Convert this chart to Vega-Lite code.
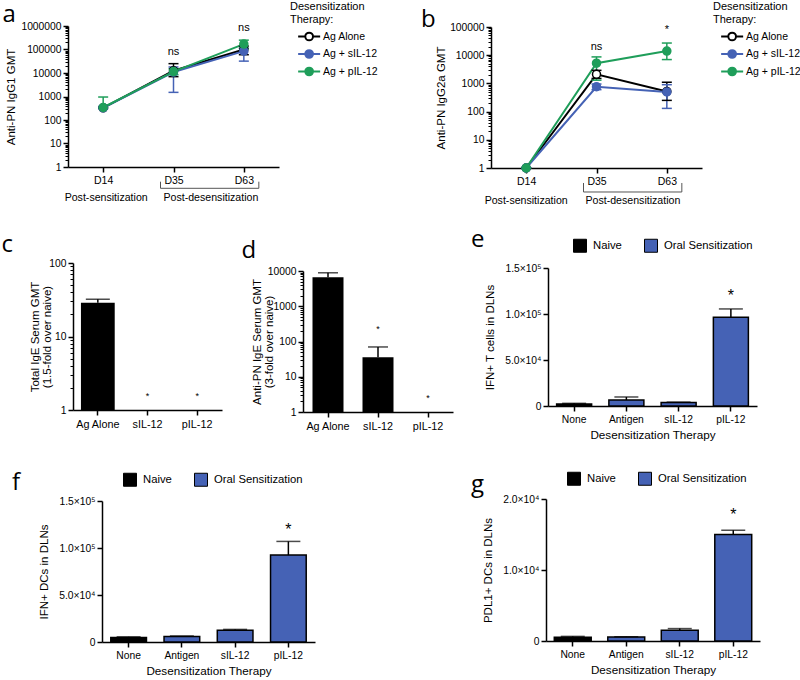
{
"$schema": "https://vega.github.io/schema/vega-lite/v6.json",
"autosize": {"type": "none"},
"padding": {"left": 0, "top": 26, "right": 800, "bottom": 680},
"background": "white",
"config": {
 "view": {"stroke": null},
 "font": "Liberation Sans",
 "axis": {"domainColor": "black", "tickColor": "black", "labelColor": "black", "titleColor": "black", "domainWidth": 1.5, "tickWidth": 1.5, "tickSize": 5, "labelFontSize": 10.3, "titleFontSize": 11.5, "titleFontWeight": "normal", "grid": false, "labelPadding": 2, "labelFont": "Liberation Sans", "titleFont": "Liberation Sans"},
 "legend": {"labelFont": "Liberation Sans", "titleFont": "Liberation Sans", "labelColor": "black", "titleColor": "black"},
 "text": {"font": "Liberation Sans", "color": "black"}
},
"datasets": {
 "lineA": [
  {"t": "D14", "g": "Ag Alone", "v": 330, "lo": 330, "hi": 330},
  {"t": "D35", "g": "Ag Alone", "v": 12500, "lo": 7000, "hi": 25000},
  {"t": "D63", "g": "Ag Alone", "v": 100000, "lo": 60000, "hi": 140000},
  {"t": "D14", "g": "Ag + sIL-12", "v": 330, "lo": 300, "hi": 380},
  {"t": "D35", "g": "Ag + sIL-12", "v": 11000, "lo": 1500, "hi": 18000},
  {"t": "D63", "g": "Ag + sIL-12", "v": 85000, "lo": 32000, "hi": 115000},
  {"t": "D14", "g": "Ag + pIL-12", "v": 340, "lo": 340, "hi": 950},
  {"t": "D35", "g": "Ag + pIL-12", "v": 11500, "lo": 8500, "hi": 15000},
  {"t": "D63", "g": "Ag + pIL-12", "v": 170000, "lo": 110000, "hi": 250000}
 ],
 "annA": [{"t": "D35", "y": 75000, "s": "ns"}, {"t": "D63", "y": 800000, "s": "ns"}],
 "lineB": [
  {"t": "D14", "g": "Ag Alone", "v": 1, "lo": 1, "hi": 1},
  {"t": "D35", "g": "Ag Alone", "v": 2100, "lo": 1500, "hi": 2900},
  {"t": "D63", "g": "Ag Alone", "v": 520, "lo": 250, "hi": 1100},
  {"t": "D14", "g": "Ag + sIL-12", "v": 1, "lo": 1, "hi": 1},
  {"t": "D35", "g": "Ag + sIL-12", "v": 760, "lo": 600, "hi": 950},
  {"t": "D63", "g": "Ag + sIL-12", "v": 500, "lo": 130, "hi": 900},
  {"t": "D14", "g": "Ag + pIL-12", "v": 1, "lo": 1, "hi": 1},
  {"t": "D35", "g": "Ag + pIL-12", "v": 5200, "lo": 1300, "hi": 8700},
  {"t": "D63", "g": "Ag + pIL-12", "v": 14000, "lo": 7000, "hi": 27000}
 ],
 "annB": [{"t": "D35", "y": 19000, "s": "ns"}, {"t": "D63", "y": 80000, "s": "*"}],
 "barC": [
  {"x": "Ag Alone", "v": 28.8, "hi": 32},
  {"x": "sIL-12", "sy": 1.55, "s": "*"},
  {"x": "pIL-12", "sy": 1.55, "s": "*"}
 ],
 "barD": [
  {"x": "Ag Alone", "v": 6600, "hi": 8900},
  {"x": "sIL-12", "v": 36, "hi": 70, "sy": 220, "s": "*"},
  {"x": "pIL-12", "sy": 2.5, "s": "*"}
 ],
 "barE": [
  {"x": "None", "c": "Naive", "v": 2200, "hi": 2900},
  {"x": "Antigen", "c": "Oral Sensitization", "v": 6500, "hi": 9800},
  {"x": "sIL-12", "c": "Oral Sensitization", "v": 3700, "hi": 4200},
  {"x": "pIL-12", "c": "Oral Sensitization", "v": 96500, "hi": 105500, "sy": 120000, "s": "*"}
 ],
 "barF": [
  {"x": "None", "c": "Naive", "v": 4800, "hi": 5500},
  {"x": "Antigen", "c": "Oral Sensitization", "v": 5800, "hi": 6400},
  {"x": "sIL-12", "c": "Oral Sensitization", "v": 12400, "hi": 13400},
  {"x": "pIL-12", "c": "Oral Sensitization", "v": 92500, "hi": 107000, "sy": 119000, "s": "*"}
 ],
 "barG": [
  {"x": "None", "c": "Naive", "v": 530, "hi": 650},
  {"x": "Antigen", "c": "Oral Sensitization", "v": 560, "hi": 600},
  {"x": "sIL-12", "c": "Oral Sensitization", "v": 1500, "hi": 1750},
  {"x": "pIL-12", "c": "Oral Sensitization", "v": 15000, "hi": 15600, "sy": 17800, "s": "*"}
 ]
},
"bounds": "flush",
"spacing": 236,
"resolve": {"scale": {"color": "independent"}, "legend": {"color": "independent"}},
"vconcat": [
 {
  "bounds": "flush",
  "spacing": 0,
  "resolve": {"scale": {"color": "independent", "fill": "independent"}, "legend": {"color": "independent", "fill": "independent"}},
  "hconcat": [
   {"width": 68, "height": 1, "data": {"values": [{"x": 2.5, "y": -4, "s": "a"}]},
    "mark": {"type": "text", "fontSize": 24, "font": "Open Sans", "align": "left", "baseline": "alphabetic"},
    "encoding": {"x": {"field": "x", "type": "quantitative", "scale": {"domain": [0, 68], "nice": false}, "axis": null}, "y": {"field": "y", "type": "quantitative", "scale": {"domain": [0, 1], "nice": false, "reverse": true}, "axis": null}, "text": {"field": "s"}}},
   {
    "width": 211, "height": 141,
    "layer": [
     {"data": {"name": "lineA"}, "mark": {"type": "line", "strokeWidth": 2},
      "encoding": {
       "x": {"field": "t", "type": "nominal", "scale": {"type": "point", "padding": 0.5}, "axis": {"title": null, "labelAngle": 0, "labelFontSize": 10.5, "labelPadding": 3}},
       "y": {"field": "v", "type": "quantitative", "scale": {"type": "log", "domain": [1, 1000000], "nice": false}, "axis": {"orient": "left", "values": [1,10,100,1000,10000,100000,1000000], "format": "d", "title": "Anti-PN IgG1 GMT", "titlePadding": 4, "labelOverlap": false}},
       "color": {"field": "g", "type": "nominal", "scale": {"domain": ["Ag Alone", "Ag + sIL-12", "Ag + pIL-12"], "range": ["black", "#4562b5", "#1f9e5a"]},
        "legend": {"orient": "none", "legendX": 222, "legendY": -25, "title": ["Desensitization", "Therapy:"], "titleFontSize": 11, "titleFontWeight": "normal", "titleLineHeight": 13, "titlePadding": 5, "labelFontSize": 10.5, "symbolType": "M0.3,0H1.6M3,0H4.3M3,0A0.7,0.7 0 1,1 1.6,0A0.7,0.7 0 1,1 3,0Z", "symbolSize": 121, "symbolStrokeWidth": 2, "symbolOpacity": 1, "labelOffset": 20, "rowPadding": 0.5,
         "encode": {"symbols": {"update": {"fill": {"signal": "datum.value === 'Ag Alone' ? 'white' : datum.value === 'Ag + sIL-12' ? '#4562b5' : '#1f9e5a'"}, "fillOpacity": {"value": 1}, "opacity": {"value": 1}}}}}}
      }},
     {"data": {"name": "lineA"}, "mark": {"type": "rule", "strokeWidth": 1.5},
      "encoding": {
       "x": {"field": "t", "type": "nominal"},
       "y": {"field": "lo", "type": "quantitative", "axis": {"orient": "left", "values": [2,3,4,5,6,7,8,9,20,30,40,50,60,70,80,90,200,300,400,500,600,700,800,900,2000,3000,4000,5000,6000,7000,8000,9000,20000,30000,40000,50000,60000,70000,80000,90000,200000,300000,400000,500000,600000,700000,800000,900000], "labels": false, "domain": false, "tickSize": 3, "tickWidth": 1, "title": null}},
       "y2": {"field": "hi"},
       "color": {"field": "g", "type": "nominal"}
      }},
     {"data": {"name": "lineA"}, "mark": {"type": "rule", "strokeWidth": 1.5, "xOffset": -5, "x2Offset": 5},
      "encoding": {"x": {"field": "t", "type": "nominal"}, "x2": {"field": "t"}, "y": {"field": "hi", "type": "quantitative", "axis": null}, "color": {"field": "g", "type": "nominal"}}},
     {"data": {"name": "lineA"}, "mark": {"type": "rule", "strokeWidth": 1.5, "xOffset": -5, "x2Offset": 5},
      "encoding": {"x": {"field": "t", "type": "nominal"}, "x2": {"field": "t"}, "y": {"field": "lo", "type": "quantitative", "axis": null}, "color": {"field": "g", "type": "nominal"}}},
     {"data": {"name": "lineA"}, "mark": {"type": "point", "filled": false, "size": 64, "strokeWidth": 1.5, "opacity": 1},
      "encoding": {"x": {"field": "t", "type": "nominal"}, "y": {"field": "v", "type": "quantitative", "axis": null},
       "color": {"field": "g", "type": "nominal"},
       "fill": {"field": "g", "type": "nominal", "scale": {"domain": ["Ag Alone", "Ag + sIL-12", "Ag + pIL-12"], "range": ["white", "#4562b5", "#1f9e5a"]}, "legend": null}}},
     {"data": {"name": "annA"}, "mark": {"type": "text", "fontSize": 11, "baseline": "middle"},
      "encoding": {"x": {"field": "t", "type": "nominal"}, "y": {"field": "y", "type": "quantitative", "axis": null}, "text": {"field": "s"}}},
     {"data": {"values": [{"t": "D14", "y": 0.049, "s": "Post-sensitization"}]}, "mark": {"type": "text", "fontSize": 10.6, "align": "center", "baseline": "middle", "dx": 3},
      "encoding": {"x": {"field": "t", "type": "nominal"}, "y": {"field": "y", "type": "quantitative", "axis": null}, "text": {"field": "s"}}},
     {"data": {"values": [{"t": "D35", "y": 0.049, "s": "Post-desensitization"}]}, "mark": {"type": "text", "fontSize": 10.6, "align": "left", "baseline": "middle", "dx": -10},
      "encoding": {"x": {"field": "t", "type": "nominal"}, "y": {"field": "y", "type": "quantitative", "axis": null}, "text": {"field": "s"}}},
     {"data": {"values": [{"t1": "D35", "t2": "D63", "y": 0.124}]}, "mark": {"type": "rule", "xOffset": -13, "x2Offset": 15, "strokeWidth": 1, "color": "#555"},
      "encoding": {"x": {"field": "t1", "type": "nominal"}, "x2": {"field": "t2"}, "y": {"field": "y", "type": "quantitative", "axis": null}}},
     {"data": {"values": [{"t": "D35", "y1": 0.124, "y2": 0.237}]}, "mark": {"type": "rule", "xOffset": -13, "strokeWidth": 1, "color": "#555"},
      "encoding": {"x": {"field": "t", "type": "nominal"}, "y": {"field": "y1", "type": "quantitative", "axis": null}, "y2": {"field": "y2"}}},
     {"data": {"values": [{"t": "D63", "y1": 0.124, "y2": 0.237}]}, "mark": {"type": "rule", "xOffset": 15, "strokeWidth": 1, "color": "#555"},
      "encoding": {"x": {"field": "t", "type": "nominal"}, "y": {"field": "y1", "type": "quantitative", "axis": null}, "y2": {"field": "y2"}}}
    ],
    "resolve": {"axis": {"y": "independent"}}
   },
   {"width": 212, "height": 1, "data": {"values": [{"x": 142, "y": 1, "s": "b"}]},
    "mark": {"type": "text", "fontSize": 24, "font": "Open Sans", "align": "left", "baseline": "alphabetic"},
    "encoding": {"x": {"field": "x", "type": "quantitative", "scale": {"domain": [0, 212], "nice": false}, "axis": null}, "y": {"field": "y", "type": "quantitative", "scale": {"domain": [0, 1], "nice": false, "reverse": true}, "axis": null}, "text": {"field": "s"}}},
   {
    "width": 211, "height": 142,
    "layer": [
     {"data": {"name": "lineB"}, "mark": {"type": "line", "strokeWidth": 2},
      "encoding": {
       "x": {"field": "t", "type": "nominal", "scale": {"type": "point", "padding": 0.5}, "axis": {"title": null, "labelAngle": 0, "labelFontSize": 10.5, "labelPadding": 3}},
       "y": {"field": "v", "type": "quantitative", "scale": {"type": "log", "domain": [1, 100000], "nice": false, "range": [142, 1]}, "axis": {"orient": "left", "values": [1,10,100,1000,10000,100000], "format": "d", "title": "Anti-PN IgG2a GMT", "titlePadding": 3, "labelOverlap": false}},
       "color": {"field": "g", "type": "nominal", "scale": {"domain": ["Ag Alone", "Ag + sIL-12", "Ag + pIL-12"], "range": ["black", "#4562b5", "#1f9e5a"]},
        "legend": {"orient": "none", "legendX": 222, "legendY": -25, "title": ["Desensitization", "Therapy:"], "titleFontSize": 11, "titleFontWeight": "normal", "titleLineHeight": 13, "titlePadding": 5, "labelFontSize": 10.5, "symbolType": "M0.3,0H1.6M3,0H4.3M3,0A0.7,0.7 0 1,1 1.6,0A0.7,0.7 0 1,1 3,0Z", "symbolSize": 121, "symbolStrokeWidth": 2, "symbolOpacity": 1, "labelOffset": 20, "rowPadding": 0.5,
         "encode": {"symbols": {"update": {"fill": {"signal": "datum.value === 'Ag Alone' ? 'white' : datum.value === 'Ag + sIL-12' ? '#4562b5' : '#1f9e5a'"}, "fillOpacity": {"value": 1}, "opacity": {"value": 1}}}}}}
      }},
     {"data": {"name": "lineB"}, "mark": {"type": "rule", "strokeWidth": 1.5},
      "encoding": {
       "x": {"field": "t", "type": "nominal"},
       "y": {"field": "lo", "type": "quantitative", "axis": {"orient": "left", "values": [2,3,4,5,6,7,8,9,20,30,40,50,60,70,80,90,200,300,400,500,600,700,800,900,2000,3000,4000,5000,6000,7000,8000,9000,20000,30000,40000,50000,60000,70000,80000,90000], "labels": false, "domain": false, "tickSize": 3, "tickWidth": 1, "title": null}},
       "y2": {"field": "hi"},
       "color": {"field": "g", "type": "nominal"}
      }},
     {"data": {"name": "lineB"}, "mark": {"type": "rule", "strokeWidth": 1.5, "xOffset": -5, "x2Offset": 5},
      "encoding": {"x": {"field": "t", "type": "nominal"}, "x2": {"field": "t"}, "y": {"field": "hi", "type": "quantitative", "axis": null}, "color": {"field": "g", "type": "nominal"}}},
     {"data": {"name": "lineB"}, "mark": {"type": "rule", "strokeWidth": 1.5, "xOffset": -5, "x2Offset": 5},
      "encoding": {"x": {"field": "t", "type": "nominal"}, "x2": {"field": "t"}, "y": {"field": "lo", "type": "quantitative", "axis": null}, "color": {"field": "g", "type": "nominal"}}},
     {"data": {"name": "lineB"}, "mark": {"type": "point", "filled": false, "size": 64, "strokeWidth": 1.5, "opacity": 1},
      "encoding": {"x": {"field": "t", "type": "nominal"}, "y": {"field": "v", "type": "quantitative", "axis": null},
       "color": {"field": "g", "type": "nominal"},
       "fill": {"field": "g", "type": "nominal", "scale": {"domain": ["Ag Alone", "Ag + sIL-12", "Ag + pIL-12"], "range": ["white", "#4562b5", "#1f9e5a"]}, "legend": null}}},
     {"data": {"name": "annB"}, "mark": {"type": "text", "fontSize": 11, "baseline": "middle"},
      "encoding": {"x": {"field": "t", "type": "nominal"}, "y": {"field": "y", "type": "quantitative", "axis": null}, "text": {"field": "s"}}},
     {"data": {"values": [{"t": "D14", "y": 0.0676, "s": "Post-sensitization"}]}, "mark": {"type": "text", "fontSize": 10.6, "align": "center", "baseline": "middle", "dx": 0},
      "encoding": {"x": {"field": "t", "type": "nominal"}, "y": {"field": "y", "type": "quantitative", "axis": null}, "text": {"field": "s"}}},
     {"data": {"values": [{"t": "D35", "y": 0.0676, "s": "Post-desensitization"}]}, "mark": {"type": "text", "fontSize": 10.6, "align": "left", "baseline": "middle", "dx": -11},
      "encoding": {"x": {"field": "t", "type": "nominal"}, "y": {"field": "y", "type": "quantitative", "axis": null}, "text": {"field": "s"}}},
     {"data": {"values": [{"t1": "D35", "t2": "D63", "y": 0.141}]}, "mark": {"type": "rule", "xOffset": -13, "x2Offset": 15, "strokeWidth": 1, "color": "#555"},
      "encoding": {"x": {"field": "t1", "type": "nominal"}, "x2": {"field": "t2"}, "y": {"field": "y", "type": "quantitative", "axis": null}}},
     {"data": {"values": [{"t": "D35", "y1": 0.141, "y2": 0.294}]}, "mark": {"type": "rule", "xOffset": -13, "strokeWidth": 1, "color": "#555"},
      "encoding": {"x": {"field": "t", "type": "nominal"}, "y": {"field": "y1", "type": "quantitative", "axis": null}, "y2": {"field": "y2"}}},
     {"data": {"values": [{"t": "D63", "y1": 0.141, "y2": 0.294}]}, "mark": {"type": "rule", "xOffset": 15, "strokeWidth": 1, "color": "#555"},
      "encoding": {"x": {"field": "t", "type": "nominal"}, "y": {"field": "y1", "type": "quantitative", "axis": null}, "y2": {"field": "y2"}}}
    ],
    "resolve": {"axis": {"y": "independent"}}
   }
  ]
 },
 {
  "bounds": "flush",
  "spacing": 0,
  "resolve": {"scale": {"color": "independent"}, "legend": {"color": "independent"}},
  "hconcat": [
   {"width": 73, "height": 1, "data": {"values": [{"x": 1.5, "y": -10, "s": "c"}]},
    "mark": {"type": "text", "fontSize": 24, "font": "Open Sans", "align": "left", "baseline": "alphabetic"},
    "encoding": {"x": {"field": "x", "type": "quantitative", "scale": {"domain": [0, 73], "nice": false}, "axis": null}, "y": {"field": "y", "type": "quantitative", "scale": {"domain": [0, 1], "nice": false, "reverse": true}, "axis": null}, "text": {"field": "s"}}},
   {
    "width": 149, "height": 148,
    "data": {"name": "barC"},
    "layer": [
     {"mark": {"type": "bar", "color": "black"},
      "encoding": {
       "x": {"field": "x", "type": "nominal", "sort": ["Ag Alone", "sIL-12", "pIL-12"], "scale": {"type": "band", "paddingInner": 0.32, "paddingOuter": 0.16}, "axis": {"title": null, "labelAngle": 0, "labelFontSize": 10.8, "labelPadding": 3}},
       "y": {"field": "v", "type": "quantitative", "scale": {"type": "log", "domain": [1, 100], "nice": false, "range": [148, 1]}, "axis": {"orient": "left", "values": [1, 10, 100], "format": "d", "title": ["Total IgE Serum  GMT", "(1.5-fold over naive)"], "titleLineHeight": 12, "titlePadding": -4, "labelOverlap": false}},
       "y2": {"datum": 1}
      }},
     {"mark": {"type": "rule", "color": "black", "strokeWidth": 1.5},
      "encoding": {"x": {"field": "x", "type": "nominal", "sort": ["Ag Alone", "sIL-12", "pIL-12"]},
       "y": {"field": "v", "type": "quantitative", "axis": {"orient": "left", "values": [2,3,4,5,6,7,8,9,20,30,40,50,60,70,80,90], "labels": false, "domain": false, "tickSize": 3, "tickWidth": 1, "title": null}},
       "y2": {"field": "hi"}}},
     {"mark": {"type": "tick", "color": "black", "thickness": 1.5, "size": 24},
      "encoding": {"x": {"field": "x", "type": "nominal", "sort": ["Ag Alone", "sIL-12", "pIL-12"]}, "y": {"field": "hi", "type": "quantitative", "axis": null}}},
     {"mark": {"type": "text", "fontSize": 9, "baseline": "middle"},
      "encoding": {"x": {"field": "x", "type": "nominal", "sort": ["Ag Alone", "sIL-12", "pIL-12"]}, "y": {"field": "sy", "type": "quantitative", "axis": null}, "text": {"field": "s"}}}
    ],
    "resolve": {"axis": {"y": "independent"}}
   },
   {"width": 81, "height": 1, "data": {"values": [{"x": 19.5, "y": -4, "s": "d"}]},
    "mark": {"type": "text", "fontSize": 24, "font": "Open Sans", "align": "left", "baseline": "alphabetic"},
    "encoding": {"x": {"field": "x", "type": "quantitative", "scale": {"domain": [0, 81], "nice": false}, "axis": null}, "y": {"field": "y", "type": "quantitative", "scale": {"domain": [0, 1], "nice": false, "reverse": true}, "axis": null}, "text": {"field": "s"}}},
   {
    "width": 150, "height": 150,
    "data": {"name": "barD"},
    "layer": [
     {"mark": {"type": "bar", "color": "black"},
      "encoding": {
       "x": {"field": "x", "type": "nominal", "sort": ["Ag Alone", "sIL-12", "pIL-12"], "scale": {"type": "band", "paddingInner": 0.38, "paddingOuter": 0.19}, "axis": {"title": null, "labelAngle": 0, "labelFontSize": 10.8, "labelPadding": 3}},
       "y": {"field": "v", "type": "quantitative", "scale": {"type": "log", "domain": [1, 10000], "nice": false, "range": [150, 9]}, "axis": {"orient": "left", "values": [1, 10, 100, 1000, 10000], "format": "d", "title": ["Anti-PN IgE Serum  GMT", "(3-fold over naive)"], "titleLineHeight": 12, "titlePadding": -7, "labelOverlap": false}},
       "y2": {"datum": 1}
      }},
     {"mark": {"type": "rule", "color": "black", "strokeWidth": 1.5},
      "encoding": {"x": {"field": "x", "type": "nominal", "sort": ["Ag Alone", "sIL-12", "pIL-12"]},
       "y": {"field": "v", "type": "quantitative", "axis": {"orient": "left", "values": [2,3,4,5,6,7,8,9,20,30,40,50,60,70,80,90,200,300,400,500,600,700,800,900,2000,3000,4000,5000,6000,7000,8000,9000], "labels": false, "domain": false, "tickSize": 3, "tickWidth": 1, "title": null}},
       "y2": {"field": "hi"}}},
     {"mark": {"type": "tick", "color": "black", "thickness": 1.5, "size": 20},
      "encoding": {"x": {"field": "x", "type": "nominal", "sort": ["Ag Alone", "sIL-12", "pIL-12"]}, "y": {"field": "hi", "type": "quantitative", "axis": null}}},
     {"mark": {"type": "text", "fontSize": 9, "baseline": "middle"},
      "encoding": {"x": {"field": "x", "type": "nominal", "sort": ["Ag Alone", "sIL-12", "pIL-12"]}, "y": {"field": "sy", "type": "quantitative", "axis": null}, "text": {"field": "s"}}}
    ],
    "resolve": {"axis": {"y": "independent"}}
   },
   {"width": 95, "height": 1, "data": {"values": [{"x": 18, "y": -15, "s": "e"}]},
    "mark": {"type": "text", "fontSize": 24, "font": "Open Sans", "align": "left", "baseline": "alphabetic"},
    "encoding": {"x": {"field": "x", "type": "quantitative", "scale": {"domain": [0, 95], "nice": false}, "axis": null}, "y": {"field": "y", "type": "quantitative", "scale": {"domain": [0, 1], "nice": false, "reverse": true}, "axis": null}, "text": {"field": "s"}}},
   {
    "width": 209, "height": 144,
    "data": {"name": "barE"},
    "layer": [
     {"mark": {"type": "bar", "stroke": "black", "strokeWidth": 1.5},
      "encoding": {
       "x": {"field": "x", "type": "nominal", "sort": ["None", "Antigen", "sIL-12", "pIL-12"], "scale": {"type": "band", "paddingInner": 0.33, "paddingOuter": 0.165}, "axis": {"title": "Desensitization Therapy", "titleFontSize": 11.7, "titlePadding": 5, "labelAngle": 0, "labelPadding": 3}},
       "y": {"field": "v", "type": "quantitative", "scale": {"domain": [0, 150000], "nice": false, "range": [144, 6]}, "axis": {"values": [0, 50000, 100000, 150000], "labelExpr": "datum.value == 0 ? '0' : datum.value == 50000 ? '5.0×10⁴' : datum.value == 100000 ? '1.0×10⁵' : '1.5×10⁵'", "title": "IFN+ T cells in DLNs", "titlePadding": 9, "labelOverlap": false}},
       "color": {"field": "c", "type": "nominal", "scale": {"domain": ["Naive", "Oral Sensitization"], "range": ["black", "#4562b5"]}, "legend": {"orient": "none", "legendX": 25, "legendY": -23.5, "direction": "horizontal", "title": null, "symbolType": "square", "symbolSize": 169, "symbolStrokeColor": "black", "symbolStrokeWidth": 1, "symbolOpacity": 1, "labelFontSize": 11.3, "labelOffset": 6, "columnPadding": 20}}
      }},
     {"mark": {"type": "rule", "color": "black", "strokeWidth": 1.5},
      "encoding": {"x": {"field": "x", "type": "nominal", "sort": ["None", "Antigen", "sIL-12", "pIL-12"]}, "y": {"field": "v", "type": "quantitative"}, "y2": {"field": "hi"}}},
     {"mark": {"type": "tick", "color": "black", "thickness": 1.5, "size": 24},
      "encoding": {"x": {"field": "x", "type": "nominal", "sort": ["None", "Antigen", "sIL-12", "pIL-12"]}, "y": {"field": "hi", "type": "quantitative"}}},
     {"mark": {"type": "text", "fontSize": 16, "baseline": "middle"},
      "encoding": {"x": {"field": "x", "type": "nominal", "sort": ["None", "Antigen", "sIL-12", "pIL-12"]}, "y": {"field": "sy", "type": "quantitative"}, "text": {"field": "s"}}}
    ]
   }
  ]
 },
 {
  "bounds": "flush",
  "spacing": 0,
  "resolve": {"scale": {"color": "independent"}, "legend": {"color": "independent"}},
  "hconcat": [
   {"width": 102, "height": 1, "data": {"values": [{"x": 12, "y": -8, "s": "f"}]},
    "mark": {"type": "text", "fontSize": 24, "font": "Open Sans", "align": "left", "baseline": "alphabetic"},
    "encoding": {"x": {"field": "x", "type": "quantitative", "scale": {"domain": [0, 102], "nice": false}, "axis": null}, "y": {"field": "y", "type": "quantitative", "scale": {"domain": [0, 1], "nice": false, "reverse": true}, "axis": null}, "text": {"field": "s"}}},
   {
    "width": 213, "height": 144,
    "data": {"name": "barF"},
    "layer": [
     {"mark": {"type": "bar", "stroke": "black", "strokeWidth": 1.5},
      "encoding": {
       "x": {"field": "x", "type": "nominal", "sort": ["None", "Antigen", "sIL-12", "pIL-12"], "scale": {"type": "band", "paddingInner": 0.33, "paddingOuter": 0.165}, "axis": {"title": "Desensitization Therapy", "titleFontSize": 11.7, "titlePadding": 5, "labelAngle": 0, "labelPadding": 3}},
       "y": {"field": "v", "type": "quantitative", "scale": {"domain": [0, 150000], "nice": false, "range": [144, 3]}, "axis": {"values": [0, 50000, 100000, 150000], "labelExpr": "datum.value == 0 ? '0' : datum.value == 50000 ? '5.0×10⁴' : datum.value == 100000 ? '1.0×10⁵' : '1.5×10⁵'", "title": "IFN+ DCs in DLNs", "titlePadding": 9, "labelOverlap": false}},
       "color": {"field": "c", "type": "nominal", "scale": {"domain": ["Naive", "Oral Sensitization"], "range": ["black", "#4562b5"]}, "legend": {"orient": "none", "legendX": 21, "legendY": -25.5, "direction": "horizontal", "title": null, "symbolType": "square", "symbolSize": 169, "symbolStrokeColor": "black", "symbolStrokeWidth": 1, "symbolOpacity": 1, "labelFontSize": 11.3, "labelOffset": 6, "columnPadding": 20}}
      }},
     {"mark": {"type": "rule", "color": "black", "strokeWidth": 1.5},
      "encoding": {"x": {"field": "x", "type": "nominal", "sort": ["None", "Antigen", "sIL-12", "pIL-12"]}, "y": {"field": "v", "type": "quantitative"}, "y2": {"field": "hi"}}},
     {"mark": {"type": "tick", "color": "black", "thickness": 1.5, "size": 24},
      "encoding": {"x": {"field": "x", "type": "nominal", "sort": ["None", "Antigen", "sIL-12", "pIL-12"]}, "y": {"field": "hi", "type": "quantitative"}}},
     {"mark": {"type": "text", "fontSize": 16, "baseline": "middle"},
      "encoding": {"x": {"field": "x", "type": "nominal", "sort": ["None", "Antigen", "sIL-12", "pIL-12"]}, "y": {"field": "sy", "type": "quantitative"}, "text": {"field": "s"}}}
    ]
   },
   {"width": 231, "height": 1, "data": {"values": [{"x": 156, "y": -6, "s": "g"}]},
    "mark": {"type": "text", "fontSize": 24, "font": "Open Sans", "align": "left", "baseline": "alphabetic"},
    "encoding": {"x": {"field": "x", "type": "quantitative", "scale": {"domain": [0, 231], "nice": false}, "axis": null}, "y": {"field": "y", "type": "quantitative", "scale": {"domain": [0, 1], "nice": false, "reverse": true}, "axis": null}, "text": {"field": "s"}}},
   {
    "width": 214, "height": 143,
    "data": {"name": "barG"},
    "layer": [
     {"mark": {"type": "bar", "stroke": "black", "strokeWidth": 1.5},
      "encoding": {
       "x": {"field": "x", "type": "nominal", "sort": ["None", "Antigen", "sIL-12", "pIL-12"], "scale": {"type": "band", "paddingInner": 0.31, "paddingOuter": 0.155}, "axis": {"title": "Desensitization Therapy", "titleFontSize": 11.7, "titlePadding": 5, "labelAngle": 0, "labelPadding": 3}},
       "y": {"field": "v", "type": "quantitative", "scale": {"domain": [0, 20000], "nice": false, "range": [143, 1]}, "axis": {"values": [0, 5000, 10000, 15000, 20000], "labelExpr": "datum.value == 0 ? '0' : datum.value == 5000 ? '5.0×10³' : datum.value == 10000 ? '1.0×10⁴' : datum.value == 15000 ? '1.5×10⁴' : '2.0×10⁴'", "title": "PDL1+ DCs in DLNs", "titlePadding": 9, "labelOverlap": false}},
       "color": {"field": "c", "type": "nominal", "scale": {"domain": ["Naive", "Oral Sensitization"], "range": ["black", "#4562b5"]}, "legend": {"orient": "none", "legendX": 21, "legendY": -26.5, "direction": "horizontal", "title": null, "symbolType": "square", "symbolSize": 169, "symbolStrokeColor": "black", "symbolStrokeWidth": 1, "symbolOpacity": 1, "labelFontSize": 11.3, "labelOffset": 6, "columnPadding": 20}}
      }},
     {"mark": {"type": "rule", "color": "black", "strokeWidth": 1.5},
      "encoding": {"x": {"field": "x", "type": "nominal", "sort": ["None", "Antigen", "sIL-12", "pIL-12"]}, "y": {"field": "v", "type": "quantitative"}, "y2": {"field": "hi"}}},
     {"mark": {"type": "tick", "color": "black", "thickness": 1.5, "size": 24},
      "encoding": {"x": {"field": "x", "type": "nominal", "sort": ["None", "Antigen", "sIL-12", "pIL-12"]}, "y": {"field": "hi", "type": "quantitative"}}},
     {"mark": {"type": "text", "fontSize": 16, "baseline": "middle"},
      "encoding": {"x": {"field": "x", "type": "nominal", "sort": ["None", "Antigen", "sIL-12", "pIL-12"]}, "y": {"field": "sy", "type": "quantitative"}, "text": {"field": "s"}}}
    ]
   }
  ]
 }
]
}
